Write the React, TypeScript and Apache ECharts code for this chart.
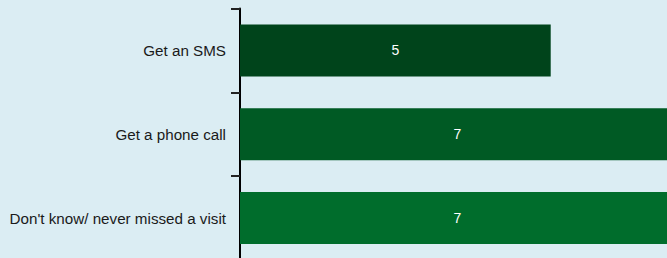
import React, { useEffect, useRef } from "react";
import * as echarts from "echarts";

const categories = ["Get an SMS", "Get a phone call", "Don't know/ never missed a visit"];
const values = [5, 7, 7];
const barColors = ["#00441b", "#005a24", "#006d2c"];

export default function App() {
  const ref = useRef<HTMLDivElement>(null);
  useEffect(() => {
    if (!ref.current) return;
    const chart = echarts.init(ref.current, null, { renderer: "svg" });
    chart.setOption({
      animation: false,
      backgroundColor: "#dbedf3",
      grid: { left: 240, top: 8.5, width: 435, height: 251.5 },
      xAxis: { type: "value", min: 0, max: 7, show: false },
      yAxis: {
        type: "category",
        inverse: true,
        data: categories,
        axisLine: { show: true, lineStyle: { color: "#000", width: 2 } },
        axisTick: { show: true, length: 9, lineStyle: { color: "#222", width: 2 } },
        axisLabel: {
          color: "#1a1a1a",
          fontSize: 15.2,
          fontFamily: "Liberation Sans, Arial, sans-serif",
          margin: 14,
        },
        splitLine: { show: false },
      },
      series: [
        {
          type: "bar",
          barWidth: 52,
          data: values.map((v, i) => ({ value: v, itemStyle: { color: barColors[i] } })),
          label: {
            show: true,
            position: "inside",
            color: "#fff",
            fontSize: 14,
            fontFamily: "Liberation Sans, Arial, sans-serif",
          },
        },
      ],
    });
    return () => chart.dispose();
  }, []);
  return (
    <div
      style={{
        position: "fixed",
        left: 0,
        top: 0,
        width: 667,
        height: 258,
        overflow: "hidden",
        background: "#dbedf3",
      }}
    >
      <div ref={ref} style={{ width: 700, height: 262 }} />
    </div>
  );
}
